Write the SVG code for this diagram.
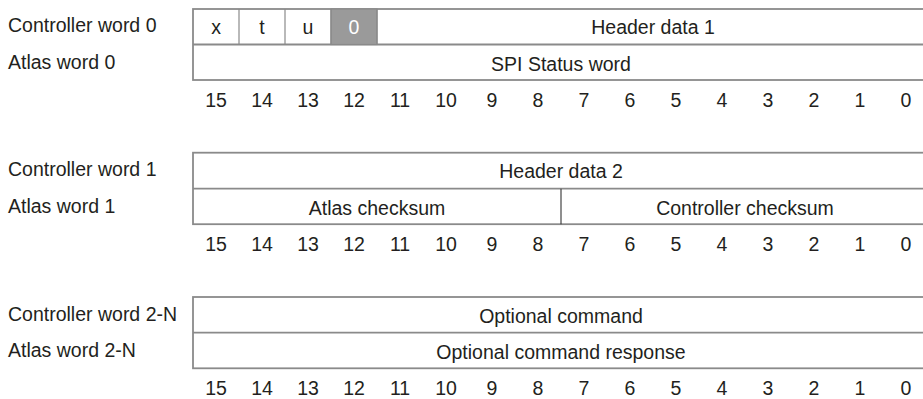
<svg xmlns="http://www.w3.org/2000/svg" width="923" height="399" viewBox="0 0 923 399">
<style>
text{font-family:"Liberation Sans",Arial,Helvetica,sans-serif;font-size:19.5px;fill:#231f20}
.lbl{text-anchor:start}
.c{text-anchor:middle}
.box{fill:#fff;stroke:#8a8a8a;stroke-width:1.8}
.hl{stroke:#8a8a8a;stroke-width:1.8;fill:none}
.vl{stroke:#8a8a8a;stroke-width:1.2;fill:none}
.vd{stroke:#333;stroke-width:1.1;fill:none}
.gr{fill:#9a9a9a;stroke:#8a8a8a;stroke-width:1.2}
.wt{fill:#fff}
</style>
<rect width="923" height="399" fill="#fff"/>

<g id="block0">
  <text class="lbl" x="8" y="32.3">Controller word 0</text>
  <text class="lbl" x="8" y="68.5">Atlas word 0</text>
  <rect class="box" x="193" y="9" width="740" height="71"/>
  <line class="hl" x1="193" y1="44.5" x2="923" y2="44.5"/>
  <rect class="gr" x="331" y="9" width="46" height="35.5"/>
  <line class="vl" x1="239" y1="9" x2="239" y2="44.5"/>
  <line class="vl" x1="285" y1="9" x2="285" y2="44.5"/>
  <line class="vl" x1="331" y1="9" x2="331" y2="44.5"/>
  <line class="vl" x1="377" y1="9" x2="377" y2="44.5"/>
  <text class="c" x="216" y="34">x</text>
  <text class="c" x="262" y="34">t</text>
  <text class="c" x="308" y="34">u</text>
  <text class="c wt" x="354" y="34">0</text>
  <text class="c" x="653" y="34">Header data 1</text>
  <text class="c" x="561" y="71">SPI Status word</text>
  <g class="bits">
    <text class="c" x="216" y="107">15</text><text class="c" x="262" y="107">14</text><text class="c" x="308" y="107">13</text><text class="c" x="354" y="107">12</text>
    <text class="c" x="400" y="107">11</text><text class="c" x="446" y="107">10</text><text class="c" x="492" y="107">9</text><text class="c" x="538" y="107">8</text>
    <text class="c" x="584" y="107">7</text><text class="c" x="630" y="107">6</text><text class="c" x="676" y="107">5</text><text class="c" x="722" y="107">4</text>
    <text class="c" x="768" y="107">3</text><text class="c" x="814" y="107">2</text><text class="c" x="860" y="107">1</text><text class="c" x="906" y="107">0</text>
  </g>
</g>

<g id="block1">
  <text class="lbl" x="8" y="176">Controller word 1</text>
  <text class="lbl" x="8" y="212.5">Atlas word 1</text>
  <rect class="box" x="193" y="152.7" width="740" height="71.5"/>
  <line class="hl" x1="193" y1="188.7" x2="923" y2="188.7"/>
  <line class="vd" x1="561" y1="188.7" x2="561" y2="224.2"/>
  <text class="c" x="561" y="178">Header data 2</text>
  <text class="c" x="377" y="214.5">Atlas checksum</text>
  <text class="c" x="745" y="214.5">Controller checksum</text>
  <g class="bits">
    <text class="c" x="216" y="250.5">15</text><text class="c" x="262" y="250.5">14</text><text class="c" x="308" y="250.5">13</text><text class="c" x="354" y="250.5">12</text>
    <text class="c" x="400" y="250.5">11</text><text class="c" x="446" y="250.5">10</text><text class="c" x="492" y="250.5">9</text><text class="c" x="538" y="250.5">8</text>
    <text class="c" x="584" y="250.5">7</text><text class="c" x="630" y="250.5">6</text><text class="c" x="676" y="250.5">5</text><text class="c" x="722" y="250.5">4</text>
    <text class="c" x="768" y="250.5">3</text><text class="c" x="814" y="250.5">2</text><text class="c" x="860" y="250.5">1</text><text class="c" x="906" y="250.5">0</text>
  </g>
</g>

<g id="block2">
  <text class="lbl" x="8" y="320.5">Controller word 2-N</text>
  <text class="lbl" x="8" y="356.5">Atlas word 2-N</text>
  <rect class="box" x="193" y="297" width="740" height="71.3"/>
  <line class="hl" x1="193" y1="332.7" x2="923" y2="332.7"/>
  <text class="c" x="561" y="322.5">Optional command</text>
  <text class="c" x="561" y="359">Optional command response</text>
  <g class="bits">
    <text class="c" x="216" y="395">15</text><text class="c" x="262" y="395">14</text><text class="c" x="308" y="395">13</text><text class="c" x="354" y="395">12</text>
    <text class="c" x="400" y="395">11</text><text class="c" x="446" y="395">10</text><text class="c" x="492" y="395">9</text><text class="c" x="538" y="395">8</text>
    <text class="c" x="584" y="395">7</text><text class="c" x="630" y="395">6</text><text class="c" x="676" y="395">5</text><text class="c" x="722" y="395">4</text>
    <text class="c" x="768" y="395">3</text><text class="c" x="814" y="395">2</text><text class="c" x="860" y="395">1</text><text class="c" x="906" y="395">0</text>
  </g>
</g>
<g id="connectors"></g>
</svg>
